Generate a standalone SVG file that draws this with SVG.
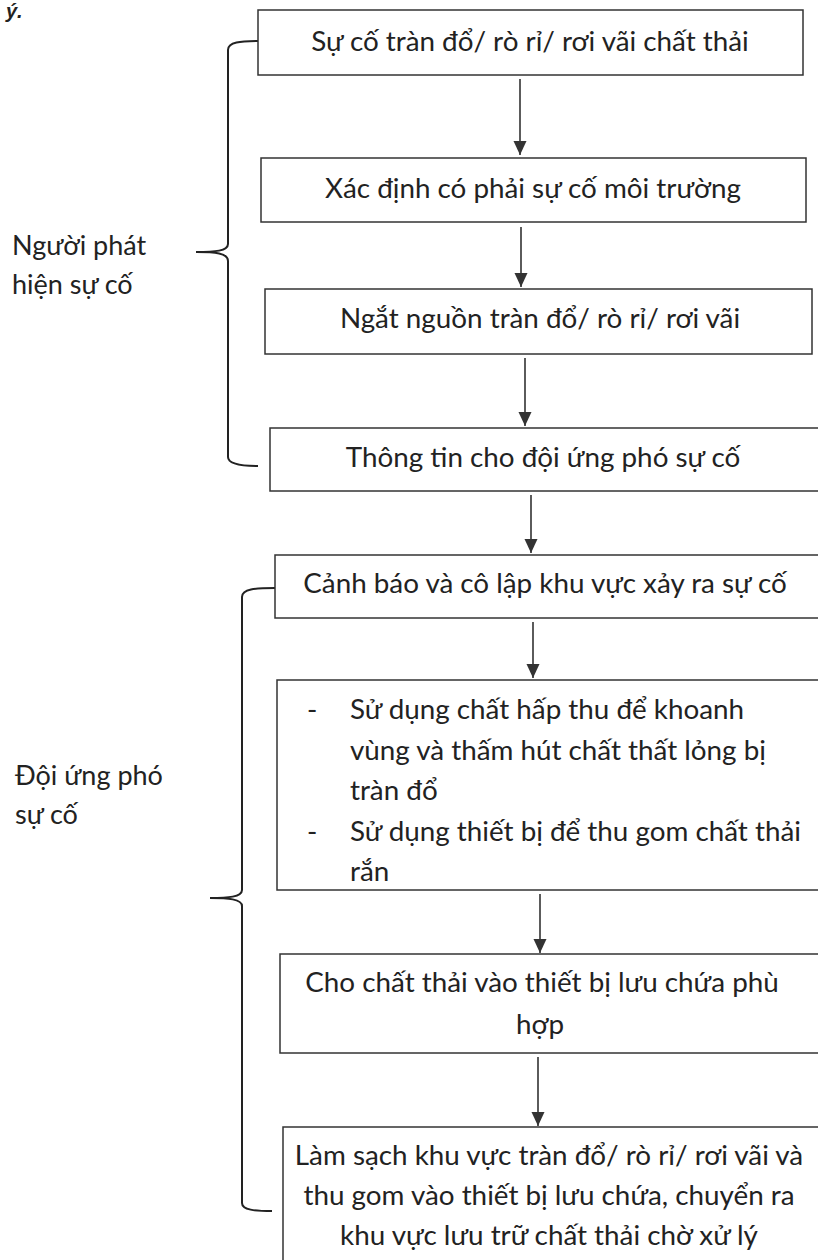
<svg xmlns="http://www.w3.org/2000/svg" width="818" height="1260" viewBox="0 0 818 1260">
<defs>
<marker id="ah" markerWidth="14" markerHeight="14" refX="14" refY="7" orient="auto" markerUnits="userSpaceOnUse">
<path d="M0,0.5 L14,7 L0,13.5 Z" fill="#333"/>
</marker>
<style>
.box{fill:#fff;stroke:#333;stroke-width:1.5}
.t{font-family:Lato,"Open Sans","Liberation Sans",sans-serif;font-size:27.8px;fill:#222}
.l{font-family:Lato,"Open Sans","Liberation Sans",sans-serif;font-size:27px;fill:#222}
.c{text-anchor:middle}
.con{stroke:#333;stroke-width:1.6;fill:none}
.br{stroke:#222;stroke-width:2;fill:none}
</style>
</defs>
<rect width="818" height="1260" fill="#fff"/>
<text x="6" y="18" style="font-family:'Liberation Sans',sans-serif;font-size:20px;font-weight:bold;font-style:italic;fill:#222">ý.</text>

<g id="connectors">
<line class="con" x1="520" y1="79" x2="520" y2="155" marker-end="url(#ah)"/>
<line class="con" x1="521" y1="227" x2="521" y2="287" marker-end="url(#ah)"/>
<line class="con" x1="525" y1="358" x2="525" y2="426" marker-end="url(#ah)"/>
<line class="con" x1="531" y1="495" x2="531" y2="553" marker-end="url(#ah)"/>
<line class="con" x1="533" y1="622" x2="533" y2="678" marker-end="url(#ah)"/>
<line class="con" x1="540" y1="894" x2="540" y2="953" marker-end="url(#ah)"/>
<line class="con" x1="538" y1="1057" x2="538" y2="1126" marker-end="url(#ah)"/>
</g>

<g id="bracket1">
<path class="br" d="M260,41 C240,41 228,42 228,50 L228,244 C228,251 215,252 196,252 C215,252 228,253 228,261 L228,457 C228,464 240,466 258,466"/>
<text class="l" x="12" y="255">Người phát</text>
<text class="l" x="12" y="294">hiện sự cố</text>
</g>

<g id="bracket2">
<path class="br" d="M275,588 C255,588 242,589 242,597 L242,890 C242,897 228,898 210,898 C228,898 242,899 242,906 L242,1203 C242,1210 255,1211 272,1211"/>
<text class="l" x="15" y="785">Đội ứng phó</text>
<text class="l" x="15" y="824">sự cố</text>
</g>

<g id="n1">
<rect class="box" x="258" y="10" width="545" height="65"/>
<text class="t c" x="530" y="51">Sự cố tràn đổ/ rò rỉ/ rơi vãi chất thải</text>
</g>
<g id="n2">
<rect class="box" x="261" y="158" width="545" height="64"/>
<text class="t c" x="533" y="198">Xác định có phải sự cố môi trường</text>
</g>
<g id="n3">
<rect class="box" x="265" y="289" width="547" height="65"/>
<text class="t c" x="540" y="328">Ngắt nguồn tràn đổ/ rò rỉ/ rơi vãi</text>
</g>
<g id="n4">
<rect class="box" x="270" y="428" width="550" height="63"/>
<text class="t c" x="543" y="467">Thông tin cho đội ứng phó sự cố</text>
</g>
<g id="n5">
<rect class="box" x="275" y="555" width="550" height="63"/>
<text class="t c" x="545" y="593">Cảnh báo và cô lập khu vực xảy ra sự cố</text>
</g>
<g id="n6">
<rect class="box" x="277" y="680" width="545" height="210"/>
<text class="t" x="307" y="719">-</text>
<text class="t" x="350" y="719">Sử dụng chất hấp thu để khoanh</text>
<text class="t" x="350" y="760">vùng và thấm hút chất thất lỏng bị</text>
<text class="t" x="350" y="800">tràn đổ</text>
<text class="t" x="307" y="841">-</text>
<text class="t" x="350" y="841">Sử dụng thiết bị để thu gom chất thải</text>
<text class="t" x="350" y="881">rắn</text>
</g>
<g id="n7">
<rect class="box" x="280" y="954" width="545" height="99"/>
<text class="t c" x="542" y="992">Cho chất thải vào thiết bị lưu chứa phù</text>
<text class="t c" x="540" y="1034">hợp</text>
</g>
<g id="n8">
<rect class="box" x="283" y="1127" width="545" height="150"/>
<text class="t c" x="549" y="1165">Làm sạch khu vực tràn đổ/ rò rỉ/ rơi vãi và</text>
<text class="t c" x="549" y="1205">thu gom vào thiết bị lưu chứa, chuyển ra</text>
<text class="t c" x="549" y="1245">khu vực lưu trữ chất thải chờ xử lý</text>
</g>
</svg>
